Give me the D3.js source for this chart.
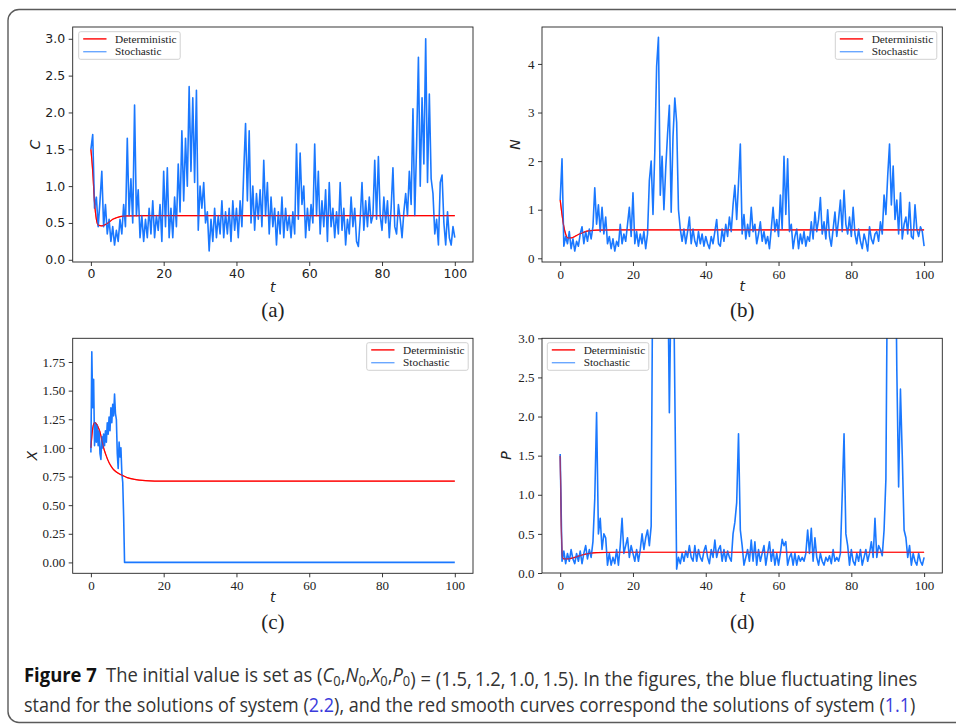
<!DOCTYPE html>
<html>
<head>
<meta charset="utf-8">
<script src="https://cdn.jsdelivr.net/npm/d3@7/dist/d3.min.js"></script>
<style>
  body { margin: 0; background: #fff; }
</style>
</head>
<body>
<div id="figure"></div>
<script>

// sampling grid of the simulated paths (C, N, P)
var tGrid = d3.range(0, 100.001, 0.5);

// stochastic paths
var cStoch = [
  1.50, 1.70, 0.70, 0.85, 0.45, 0.80, 1.20, 0.45, 0.75, 0.35,
  0.55, 0.25, 0.45, 0.20, 0.40, 0.25, 0.55, 0.35, 0.75, 0.45,
  1.65, 0.60, 1.10, 0.50, 2.10, 0.60, 0.95, 0.30, 0.60, 0.25,
  0.55, 0.30, 0.70, 0.35, 0.80, 0.30, 0.60, 0.40, 0.75, 0.25,
  1.20, 0.45, 1.25, 0.30, 0.70, 0.30, 0.85, 0.45, 1.30, 0.65,
  1.75, 0.80, 1.65, 1.00, 2.35, 1.20, 2.20, 1.05, 2.30, 0.40,
  1.00, 0.70, 1.05, 0.50, 0.65, 0.12, 0.55, 0.25, 0.70, 0.30,
  0.60, 0.35, 0.80, 0.30, 0.65, 0.35, 0.70, 0.25, 0.80, 0.40,
  0.70, 0.30, 0.80, 0.45, 1.20, 1.85, 0.80, 1.75, 0.50, 1.00,
  0.40, 0.90, 0.55, 0.95, 0.45, 1.35, 0.60, 1.05, 0.35, 0.85,
  0.45, 0.70, 0.20, 0.65, 0.35, 0.85, 0.30, 0.70, 0.40, 0.60,
  0.30, 0.65, 0.35, 1.57, 0.55, 1.45, 0.75, 1.00, 0.30, 0.70,
  0.40, 0.75, 0.50, 1.57, 0.60, 1.20, 0.35, 0.80, 0.45, 0.95,
  0.25, 1.05, 0.45, 0.70, 0.30, 0.65, 0.35, 1.05, 0.40, 0.70,
  0.20, 0.55, 0.35, 0.85, 0.45, 0.70, 0.25, 0.18, 0.55, 1.05,
  0.40, 0.80, 0.45, 0.85, 0.50, 0.60, 1.35, 0.55, 1.40, 0.60,
  0.40, 0.85, 0.50, 0.80, 0.30, 0.70, 1.25, 0.45, 0.35, 0.75,
  0.55, 0.30, 0.65, 0.90, 0.60, 1.20, 0.75, 2.05, 0.60, 1.55,
  2.75, 1.00, 2.20, 1.30, 3.00, 1.05, 2.25, 1.10, 0.90, 0.35,
  0.55, 0.20, 1.05, 1.15, 0.50, 0.20, 0.65, 0.30, 0.20, 0.45, 0.30
];

var nStoch = [
  1.20, 2.05, 0.25, 0.45, 0.30, 0.55, 0.20, 0.40, 0.15, 0.35,
  0.25, 0.50, 0.65, 0.30, 0.55, 0.35, 0.60, 0.40, 0.65, 1.45,
  0.70, 1.10, 0.55, 1.05, 0.50, 0.85, 0.30, 0.45, 0.20, 0.40,
  0.15, 0.35, 0.25, 0.70, 0.30, 0.50, 0.35, 0.70, 1.05, 0.45,
  1.35, 0.30, 0.55, 0.25, 0.50, 0.30, 0.55, 0.20, 0.50, 1.60,
  2.00, 0.90, 2.20, 3.95, 4.55, 1.30, 2.10, 1.00, 1.85, 2.55,
  3.15, 0.95, 2.50, 3.30, 2.80, 1.00, 0.60, 0.35, 0.60, 0.30,
  0.55, 0.85, 0.30, 0.60, 0.35, 0.25, 0.55, 0.30, 0.50, 0.25,
  0.45, 0.30, 0.20, 0.45, 0.30, 0.55, 0.80, 0.30, 0.25, 0.60,
  0.35, 0.70, 0.45, 0.85, 0.55, 1.10, 1.50, 0.80, 1.55, 2.35,
  0.50, 0.90, 0.40, 0.70, 0.45, 1.05, 0.55, 0.70, 0.30, 0.50,
  0.75, 0.35, 0.55, 0.30, 0.45, 0.20, 0.60, 1.05, 0.55, 0.80,
  0.45, 1.30, 0.60, 2.10, 0.90, 2.05, 0.55, 0.70, 0.20, 0.45,
  0.60, 0.20, 0.50, 0.30, 0.55, 0.25, 0.45, 0.35, 0.75, 0.40,
  0.95, 0.55, 0.80, 1.25, 0.50, 0.75, 0.40, 1.00, 0.45, 0.25,
  0.60, 0.95, 0.45, 0.80, 1.20, 0.55, 1.40, 0.70, 0.50, 0.85,
  0.45, 1.05, 0.50, 0.30, 0.60, 0.35, 0.20, 0.50, 0.35, 0.15,
  0.65, 0.40, 0.30, 0.50, 0.55, 0.35, 0.75, 0.50, 1.30, 0.90,
  1.70, 2.35, 1.10, 1.90, 0.80, 1.20, 0.50, 1.35, 0.40, 0.70,
  0.85, 0.50, 1.15, 0.45, 0.40, 1.10, 0.60, 0.45, 0.65, 0.55, 0.25
];

// values above 3 leave the visible range of panel (d)
var pStoch = [
  1.52, 0.15, 0.28, 0.12, 0.25, 0.15, 0.30, 0.18, 0.12, 0.25,
  0.15, 0.28, 0.12, 0.25, 0.35, 0.18, 0.30, 0.20, 0.40, 0.95,
  2.05, 0.50, 0.70, 0.30, 0.50, 0.45, 0.10, 0.25, 0.10, 0.20,
  0.12, 0.30, 0.10, 0.35, 0.70, 0.25, 0.35, 0.45, 0.20, 0.35,
  0.25, 0.15, 0.30, 0.15, 0.30, 0.50, 0.30, 0.45, 0.55, 0.35,
  0.60, 4.50, 6.00, 5.20, 7.00, 5.50, 6.50, 4.80, 5.50, 4.20,
  2.05, 3.80, 4.50, 2.30, 0.05, 0.20, 0.12, 0.25, 0.15, 0.28,
  0.20, 0.35, 0.20, 0.15, 0.35, 0.15, 0.30, 0.20, 0.15, 0.28,
  0.35, 0.20, 0.12, 0.30, 0.20, 0.42, 0.20, 0.30, 0.35, 0.15,
  0.30, 0.15, 0.28, 0.20, 0.15, 0.50, 0.65, 0.90, 1.78, 0.55,
  0.35, 0.10, 0.20, 0.30, 0.15, 0.42, 0.15, 0.40, 0.10, 0.30,
  0.15, 0.25, 0.35, 0.10, 0.25, 0.40, 0.15, 0.30, 0.10, 0.25,
  0.10, 0.25, 0.43, 0.35, 0.40, 0.10, 0.20, 0.25, 0.10, 0.25,
  0.10, 0.22, 0.15, 0.20, 0.15, 0.25, 0.55, 0.25, 0.57, 0.15,
  0.45, 0.20, 0.10, 0.25, 0.15, 0.10, 0.20, 0.15, 0.22, 0.12,
  0.30, 0.15, 0.20, 0.15, 0.25, 1.00, 1.78, 0.50, 0.35, 0.10,
  0.30, 0.15, 0.10, 0.25, 0.15, 0.30, 0.10, 0.20, 0.30, 0.15,
  0.25, 0.40, 0.20, 0.70, 0.20, 0.35, 0.30, 0.22, 0.55, 1.20,
  4.50, 6.00, 5.00, 6.50, 5.00, 2.60, 1.10, 2.35, 1.50, 0.55,
  0.45, 0.20, 0.35, 0.10, 0.25, 0.15, 0.10, 0.25, 0.15, 0.10, 0.20
];

// X dies out near t = 9.3 and stays at zero
var tX = [0, 0.25, 0.5, 0.75, 1, 1.25, 1.5, 1.75, 2, 2.25, 2.5, 2.75, 3, 3.25,
  3.5, 3.75, 4, 4.25, 4.5, 4.75, 5, 5.25, 5.5, 5.75, 6, 6.25, 6.5, 6.75, 7,
  7.25, 7.5, 7.75, 8, 8.25, 8.5, 8.75, 9, 9.25, 100];
var xStoch = [0.96, 1.84, 1.35, 1.60, 1.02, 1.22, 1.05, 1.20, 1.02, 1.15, 0.95,
  0.90, 1.10, 1.00, 1.12, 1.02, 1.15, 1.05, 1.22, 1.12, 1.27, 1.15, 1.35, 1.22,
  1.38, 1.28, 1.47, 1.30, 1.25, 0.95, 0.82, 1.05, 0.92, 1.00, 0.78, 0.70, 0.40,
  0.00, 0.00];

// deterministic solutions
var detTC = [0, 0.5, 1, 1.5, 2, 3, 4, 5, 6, 7, 8, 10, 15, 100];
var detC = [1.5, 1.2, 0.78, 0.55, 0.47, 0.46, 0.48, 0.51, 0.55, 0.57, 0.585, 0.595, 0.6, 0.6];
var detTN = [0, 0.5, 1, 1.5, 2, 3, 4, 5, 6, 7, 8, 10, 15, 100];
var detN = [1.2, 0.9, 0.65, 0.5, 0.42, 0.42, 0.45, 0.49, 0.52, 0.55, 0.565, 0.58, 0.585, 0.585];
var detTX = [0, 0.5, 1, 1.5, 2, 2.5, 3, 3.5, 4, 5, 6, 7, 8, 9, 10, 12, 15, 20, 100];
var detX = [1.0, 1.17, 1.22, 1.21, 1.18, 1.14, 1.07, 1.0, 0.95, 0.87, 0.82, 0.79, 0.77, 0.755, 0.74, 0.725, 0.715, 0.71, 0.71];
var detTP = [0, 0.3, 0.6, 1, 2, 4, 6, 8, 10, 15, 100];
var detP = [1.5, 0.6, 0.2, 0.18, 0.18, 0.2, 0.23, 0.25, 0.26, 0.265, 0.265];

// ticks and labels
var tTicks = [0, 20, 40, 60, 80, 100];
var cTicks = [0, 0.5, 1, 1.5, 2, 2.5, 3];
var nTicks = [0, 1, 2, 3, 4];
var xTicks = [0, 0.25, 0.5, 0.75, 1, 1.25, 1.5, 1.75];
var pTicks = [0, 0.5, 1, 1.5, 2, 2.5, 3];
var legendLabels = ["Deterministic", "Stochastic"];

var serif = "'Liberation Serif', 'Times New Roman', serif";
var sans = "'DejaVu Sans', sans-serif";
var red = "#ff0000", blue = "#1a78ff";

var svg = d3.select("#figure").append("svg")
    .attr("width", 956)
    .attr("height", 725);

// frame round the figure (runs off the right side)
svg.append("rect")
    .attr("x", 8).attr("y", 9.5)
    .attr("width", 1000).attr("height", 713)
    .attr("rx", 11)
    .attr("fill", "none")
    .attr("stroke", "#5a5a5a")
    .attr("stroke-width", 1.4);

var panels = [
  {id: "a", left: 72.7, right: 473, top: 27, bottom: 262, yDomain: [-0.03, 3.16],
   ticks: cTicks, fmt: ".1f", font: sans, fontSize: 12.5, label: "C", labelX: 39.5,
   tY: 292, sub: "(a)", subY: 317, legX: 78.7, legY: 31.7,
   sT: tGrid, s: cStoch, dT: detTC, d: detC},
  {id: "b", left: 542, right: 942.3, top: 27, bottom: 262, yDomain: [-0.076, 4.76],
   ticks: nTicks, fmt: "d", font: serif, fontSize: 13, label: "N", labelX: 519.7,
   tY: 291, sub: "(b)", subY: 317, legX: 835.3, legY: 31.7,
   sT: tGrid, s: nStoch, dT: detTN, d: detN},
  {id: "c", left: 72.7, right: 473, top: 338.3, bottom: 573.3, yDomain: [-0.095, 1.957],
   ticks: xTicks, fmt: ".2f", font: serif, fontSize: 13, label: "X", labelX: 36.7,
   tY: 601.5, sub: "(c)", subY: 629, legX: 366.7, legY: 342.7,
   sT: tX, s: xStoch, dT: detTX, d: detX},
  {id: "d", left: 542, right: 942.3, top: 338.3, bottom: 573, yDomain: [0, 3],
   ticks: pTicks, fmt: ".1f", font: serif, fontSize: 13, label: "P", labelX: 511,
   tY: 601.5, sub: "(d)", subY: 629, legX: 547.3, legY: 342.7,
   sT: tGrid, s: pStoch, dT: detTP, d: detP}
];

panels.forEach(function(p) {

  var x = d3.scaleLinear().domain([-5, 105]).range([p.left, p.right]);
  var y = d3.scaleLinear().domain(p.yDomain).range([p.bottom, p.top]);

  // clip the curves to the axes box
  svg.append("clipPath")
      .attr("id", "clip-" + p.id)
    .append("rect")
      .attr("x", p.left).attr("y", p.top)
      .attr("width", p.right - p.left)
      .attr("height", p.bottom - p.top);

  var plot = svg.append("g").attr("clip-path", "url(#clip-" + p.id + ")");

  var stochLine = d3.line()
      .x(function(d) { return x(d[0]); })
      .y(function(d) { return y(d[1]); });

  var detLine = d3.line()
      .curve(d3.curveMonotoneX)
      .x(function(d) { return x(d[0]); })
      .y(function(d) { return y(d[1]); });

  // red deterministic curve under the blue path
  plot.append("path")
      .datum(p.dT.map(function(t, i) { return [t, p.d[i]]; }))
      .attr("fill", "none")
      .attr("stroke", red)
      .attr("stroke-width", 1.2)
      .attr("d", detLine);

  plot.append("path")
      .datum(p.sT.map(function(t, i) { return [t, p.s[i]]; }))
      .attr("fill", "none")
      .attr("stroke", blue)
      .attr("stroke-width", 1.6)
      .attr("stroke-linejoin", "round")
      .attr("d", stochLine);

  // the red curve shows again where the blue one is flat at the end
  plot.append("path")
      .datum(p.dT.map(function(t, i) { return [t, p.d[i]]; }))
      .attr("fill", "none")
      .attr("stroke", red)
      .attr("stroke-width", 1.2)
      .attr("stroke-opacity", 0.55)
      .attr("d", detLine);

  // X axis
  var gx = svg.append("g")
      .attr("transform", "translate(0," + p.bottom + ")")
      .call(d3.axisBottom(x).tickValues(tTicks).tickSize(4).tickPadding(3.5));

  // Y axis
  var gy = svg.append("g")
      .attr("transform", "translate(" + p.left + ",0)")
      .call(d3.axisLeft(y).tickValues(p.ticks).tickFormat(d3.format(p.fmt))
              .tickSize(4).tickPadding(3.5));

  [gx, gy].forEach(function(g) {
    g.attr("font-family", p.font).attr("font-size", p.fontSize);
    g.select(".domain").remove();
    g.selectAll("line").attr("stroke", "#222").attr("stroke-width", 0.9);
    g.selectAll("text").attr("fill", "#222");
  });

  // axes box
  svg.append("rect")
      .attr("x", p.left).attr("y", p.top)
      .attr("width", p.right - p.left)
      .attr("height", p.bottom - p.top)
      .attr("fill", "none")
      .attr("stroke", "#222")
      .attr("stroke-width", 0.9);

  // axis titles
  svg.append("text")
      .attr("x", (p.left + p.right) / 2)
      .attr("y", p.tY)
      .attr("text-anchor", "middle")
      .attr("font-family", sans)
      .attr("font-style", "italic")
      .attr("font-size", 14)
      .attr("fill", "#222")
      .text("t");

  svg.append("text")
      .attr("transform", "translate(" + p.labelX + "," + (p.top + p.bottom) / 2 + ") rotate(-90)")
      .attr("text-anchor", "middle")
      .attr("font-family", sans)
      .attr("font-style", "italic")
      .attr("font-size", 14)
      .attr("fill", "#222")
      .text(p.label);

  // sub-figure label
  svg.append("text")
      .attr("x", (p.left + p.right) / 2)
      .attr("y", p.subY)
      .attr("text-anchor", "middle")
      .attr("font-family", serif)
      .attr("font-size", 21)
      .attr("fill", "#222")
      .text(p.sub);

  // Add the Legend
  var leg = svg.append("g")
      .attr("transform", "translate(" + p.legX + "," + p.legY + ")");

  leg.append("rect")
      .attr("width", 101.5).attr("height", 27.6)
      .attr("rx", 2)
      .attr("fill", "#fff").attr("fill-opacity", 0.8)
      .attr("stroke", "#cccccc")
      .attr("stroke-width", 0.9);

  legendLabels.forEach(function(name, i) {
    var ly = 7.2 + i * 12.8;
    leg.append("line")
        .attr("x1", 4.5).attr("x2", 27.8)
        .attr("y1", ly).attr("y2", ly)
        .attr("stroke", i === 0 ? red : blue)
        .attr("stroke-opacity", i === 0 ? 1 : 0.65)
        .attr("stroke-width", 1.4);
    leg.append("text")
        .attr("x", 36.4)
        .attr("y", ly + 3.8)
        .attr("font-family", serif)
        .attr("font-size", 11.3)
        .attr("fill", "#222")
        .text(name);
  });
});

// caption: each line is squeezed horizontally to the printed width
var capFont = "'Open Sans', 'Noto Sans', sans-serif";

function captionLine(yPos, width) {
  var g = svg.append("g");
  var txt = g.append("text")
      .attr("x", 0).attr("y", 0)
      .attr("font-family", capFont)
      .attr("font-size", 20)
      .attr("fill", "#333");
  return {g: g, txt: txt, y: yPos, width: width};
}

function fitLine(l) {
  var natural = l.txt.node().getComputedTextLength();
  l.g.attr("transform", "translate(24," + l.y + ") scale(" + (l.width / natural) + ",1)");
}

var line1 = captionLine(682, 894);
line1.txt.append("tspan").attr("font-weight", "bold").attr("fill", "#111").text("Figure 7");
line1.txt.append("tspan").text("\u2002The initial value is set as (");
[["C", ","], ["N", ","], ["X", ","], ["P", ""]].forEach(function(v) {
  line1.txt.append("tspan").attr("font-style", "italic").text(v[0]);
  line1.txt.append("tspan").attr("font-size", 14).attr("dy", 4).text("0");
  line1.txt.append("tspan").attr("dy", -4).text(v[1]);
});
line1.txt.append("tspan").text(") = (1.5,\u20091.2,\u20091.0,\u20091.5). In the figures, the blue fluctuating lines");
fitLine(line1);

var line2 = captionLine(712, 892);
line2.txt.append("tspan").text("stand for the solutions of system (");
line2.txt.append("tspan").attr("fill", "#3b3bdc").text("2.2");
line2.txt.append("tspan").text("), and the red smooth curves correspond the solutions of system (");
line2.txt.append("tspan").attr("fill", "#3b3bdc").text("1.1");
line2.txt.append("tspan").text(")");
fitLine(line2);

</script>
</body>
</html>
